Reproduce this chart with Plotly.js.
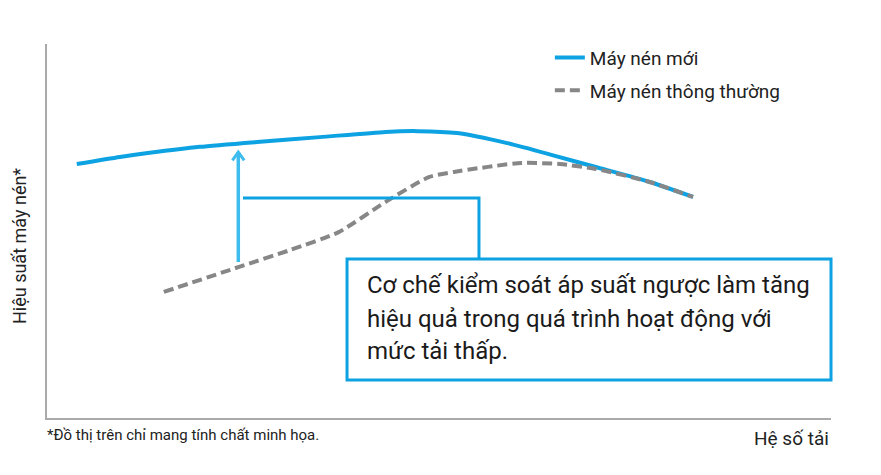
<!DOCTYPE html>
<html>
<head>
<meta charset="utf-8">
<script src="https://cdn.plot.ly/plotly-3.0.1.min.js"></script>
<style>
  html, body { margin: 0; padding: 0; background: #ffffff; }
  #chart { width: 881px; height: 475px; }
</style>
</head>
<body>
<div id="chart"></div>
<script>
// Load factor (0-100, illustrative) and compressor efficiency (0-100, illustrative)
const newLoad = [3.8, 9.3, 13.1, 19.5, 26.8, 34.8, 43.2, 47.3, 52.3, 58.7, 64.8, 70.0, 76.9, 82.4];
const newEff  = [67.9, 69.8, 70.9, 72.5, 73.8, 75.1, 76.5, 76.7, 76.2, 73.5, 70.1, 67.1, 63.1, 59.1];
const oldLoad = [14.9, 24.5, 31.0, 37.2, 43.2, 48.7, 51.9, 60.5, 65.4, 70.0, 76.9, 82.4];
const oldEff  = [33.7, 40.4, 44.9, 49.7, 57.8, 64.4, 65.8, 68.2, 67.9, 66.6, 63.1, 59.1];

const seriesNames = ["Máy nén mới", "Máy nén thông thường"];
const yTitle = "Hiệu suất máy nén*";
const xTitle = "Hệ số tải";
const footnote = "*Đồ thị trên chỉ mang tính chất minh họa.";
const calloutLines = [
  "Cơ chế kiểm soát áp suất ngược làm tăng",
  "hiệu quả trong quá trình hoạt động với",
  "mức tải thấp."
];

const BLUE = "#0da2e2";
const ARROW = "#3dbdee";
const GRAY = "#878787";
const FONT = "Roboto, 'Noto Sans', sans-serif";

const traces = [
  {
    x: newLoad, y: newEff, name: seriesNames[0], type: "scatter", mode: "lines",
    line: { color: BLUE, width: 4, shape: "spline", smoothing: 0.6 },
    legendgroup: "a", hoverinfo: "skip"
  },
  {
    x: oldLoad, y: oldEff, name: seriesNames[1], type: "scatter", mode: "lines",
    line: { color: GRAY, width: 4, dash: "10px,5px", shape: "spline", smoothing: 0.6 },
    legendgroup: "b", hoverinfo: "skip"
  }
];

// Arrow (improvement) & connector, in data units
const arrowX = 24.4, arrowY0 = 41.7, arrowY1 = 71.1;
const connY = 58.8, connX0 = 25.0, connX1 = 55.1, connY1 = 42.5;

const shapes = [
  { type: "path", xref: "x", yref: "y",
    path: `M${arrowX},${arrowY0} L${arrowX},${arrowY1}`,
    line: { color: ARROW, width: 3.5 } },
  { type: "path", xref: "x", yref: "y",
    path: `M${arrowX - 0.75},${arrowY1 - 2.2} L${arrowX},${arrowY1} L${arrowX + 0.75},${arrowY1 - 2.2}`,
    line: { color: ARROW, width: 3 } },
  { type: "path", xref: "x", yref: "y",
    path: `M${connX0},${connY} L${connX1},${connY} L${connX1},${connY1}`,
    line: { color: BLUE, width: 3 } },
  { type: "rect", xref: "paper", yref: "paper",
    x0: 0.3827, x1: 1.0, y0: 0.1016, y1: 0.4251,
    line: { color: BLUE, width: 3 }, fillcolor: "rgba(255,255,255,0)" }
];

const annotations = [
  { xref: "paper", yref: "paper", x: -0.0344, y: 0.46, text: yTitle, textangle: -90,
    showarrow: false, font: { family: FONT, size: 18, color: "#222" }, xanchor: "center", yanchor: "middle" },
  { xref: "paper", yref: "paper", x: 1.0, y: -0.055, text: xTitle,
    showarrow: false, font: { family: FONT, size: 19, color: "#222" }, xanchor: "right", yanchor: "middle" },
  { xref: "paper", yref: "paper", x: -0.003, y: -0.045, text: footnote,
    showarrow: false, font: { family: FONT, size: 15, color: "#222" }, xanchor: "left", yanchor: "middle" }
];
const lineYs = [0.356, 0.265, 0.178];
calloutLines.forEach((t, i) => {
  annotations.push({ xref: "paper", yref: "paper", x: 0.405, y: lineYs[i], text: t,
    showarrow: false, xanchor: "left", yanchor: "middle", align: "left",
    font: { family: FONT, size: 24, color: "#1a1a1a" } });
});

const layout = {
  width: 881, height: 475,
  margin: { l: 47, r: 50, t: 44, b: 57 },
  paper_bgcolor: "#ffffff", plot_bgcolor: "#ffffff",
  font: { family: FONT, color: "#222" },
  showlegend: true,
  legend: {
    x: 0.6414, y: 1.014, xanchor: "left", yanchor: "top",
    font: { family: FONT, size: 19, color: "#222" },
    bgcolor: "rgba(0,0,0,0)", tracegroupgap: 5
  },
  xaxis: { range: [0, 100], showline: true, linecolor: "#aaaaaa", linewidth: 2,
    showgrid: false, zeroline: false, showticklabels: false, ticks: "" , fixedrange: true},
  yaxis: { range: [0, 100], showline: true, linecolor: "#aaaaaa", linewidth: 2,
    showgrid: false, zeroline: false, showticklabels: false, ticks: "", fixedrange: true },
  shapes: shapes,
  annotations: annotations
};

Plotly.newPlot("chart", traces, layout, { displayModeBar: false, staticPlot: true });
</script>
</body>
</html>
